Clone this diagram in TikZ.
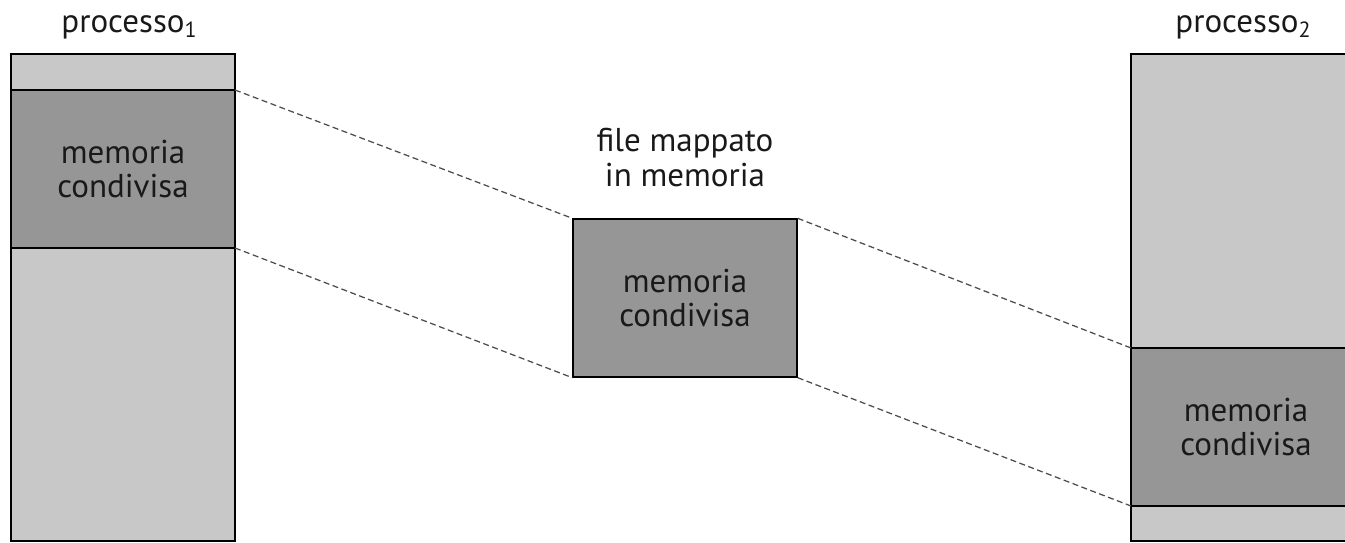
\documentclass[tikz,border=0pt]{standalone}
\usepackage{fontspec}
\setmainfont{PT Sans}
\begin{document}
\begin{tikzpicture}[x=1pt,y=-1pt,
  light/.style={fill=lightgray, draw=black, line width=1.4pt},
  dark/.style={fill=darkgray, draw=black, line width=1.4pt},
  lbl/.style={font=\fontsize{33}{34}\selectfont, align=center, text=black!90, inner sep=0pt},
  link/.style={dashed, dash pattern=on 6pt off 3.5pt, line width=1.25pt, draw=black!70}]
\definecolor{lightgray}{HTML}{C8C8C8}
\definecolor{darkgray}{HTML}{969696}
\useasboundingbox (0,0) rectangle (1345,543);
\clip (0,0) rectangle (1345,543);
% left process
\draw[light] (11,54) rectangle (235,541);
\draw[dark] (11,90) rectangle (235,248);
\coordinate (l1) at (235,90);
\coordinate (l2) at (235,248);
\node[lbl] (lt) at (123,169) {memoria\\condivisa};
\node[lbl, anchor=base] (p1) at (129,33) {processo\raisebox{-0.3ex}{\fontsize{22}{22}\selectfont 1}};
% middle
\node[dark, minimum width=224pt, minimum height=158pt, inner sep=0pt] (m) at (685,298) {};
\node[lbl] at (m.center) {memoria\\condivisa};
\node[lbl, anchor=base] (fm) at (685,151) {file mappato};
\node[lbl, anchor=base] (im) at (685,186) {in memoria};
% right process
\draw[light] (1131,54) rectangle (1361,541);
\draw[dark] (1131,348) rectangle (1361,506);
\coordinate (r1) at (1131,348);
\coordinate (r2) at (1131,506);
\node[lbl] (rt) at (1246,427) {memoria\\condivisa};
\node[lbl, anchor=base] (p2) at (1243,33) {processo\raisebox{-0.3ex}{\fontsize{22}{22}\selectfont 2}};
% connectors
\draw[link] (l1) -- (m.north west);
\draw[link] (l2) -- (m.south west);
\draw[link] (m.north east) -- (r1);
\draw[link] (m.south east) -- (r2);
\end{tikzpicture}
\end{document}
